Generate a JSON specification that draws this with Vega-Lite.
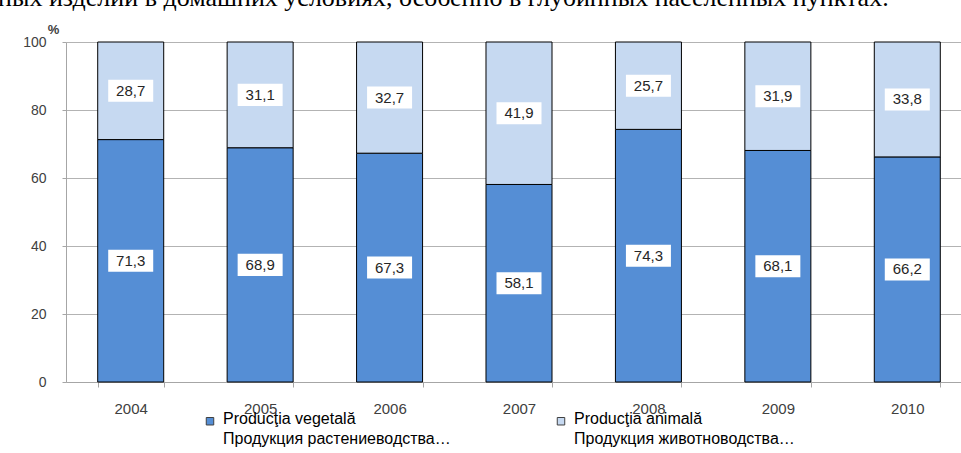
{
  "$schema": "https://vega.github.io/schema/vega-lite/v6.json",
  "width": 906,
  "height": 340,
  "autosize": {"type": "none"},
  "padding": {"left": 66, "top": 42, "right": 0, "bottom": 71},
  "background": "white",
  "config": {
    "view": {"stroke": null},
    "locale": {"number": {"decimal": ",", "thousands": " ", "grouping": [3], "currency": ["", ""]}}
  },
  "title": {
    "text": "ных изделий в домашних условиях, особенно в глубинных населенных пунктах.",
    "anchor": "start",
    "frame": "group",
    "dx": -68,
    "offset": -9,
    "baseline": "alphabetic",
    "font": "Liberation Serif",
    "fontSize": 26,
    "fontWeight": "normal",
    "color": "#000000"
  },
  "data": {
    "values": [
      {"year": "2004", "type": "Producţia vegetală", "value": 71.3},
      {"year": "2004", "type": "Producţia animală", "value": 28.7},
      {"year": "2005", "type": "Producţia vegetală", "value": 68.9},
      {"year": "2005", "type": "Producţia animală", "value": 31.1},
      {"year": "2006", "type": "Producţia vegetală", "value": 67.3},
      {"year": "2006", "type": "Producţia animală", "value": 32.7},
      {"year": "2007", "type": "Producţia vegetală", "value": 58.1},
      {"year": "2007", "type": "Producţia animală", "value": 41.9},
      {"year": "2008", "type": "Producţia vegetală", "value": 74.3},
      {"year": "2008", "type": "Producţia animală", "value": 25.7},
      {"year": "2009", "type": "Producţia vegetală", "value": 68.1},
      {"year": "2009", "type": "Producţia animală", "value": 31.9},
      {"year": "2010", "type": "Producţia vegetală", "value": 66.2},
      {"year": "2010", "type": "Producţia animală", "value": 33.8}
    ]
  },
  "transform": [
    {"stack": "value", "groupby": ["year"], "sort": [{"field": "type", "order": "descending"}], "as": ["v0", "v1"]},
    {"calculate": "(datum.v0 + datum.v1) / 2", "as": "mid"}
  ],
  "encoding": {
    "x": {
      "field": "year",
      "type": "ordinal",
      "scale": {"paddingInner": 0.49, "paddingOuter": 0.245},
      "axis": {
        "title": null,
        "labelAngle": 0,
        "labelFont": "Liberation Sans",
        "labelFontSize": 15,
        "labelColor": "#404040",
        "labelPadding": 14,
        "tickBand": "extent",
        "tickSize": 5,
        "tickColor": "#a6a6a6",
        "domainColor": "#a6a6a6",
        "grid": false
      }
    }
  },
  "layer": [
    {
      "mark": {"type": "bar", "stroke": "#000000", "strokeWidth": 1},
      "encoding": {
        "y": {
          "field": "v0",
          "type": "quantitative",
          "scale": {"domain": [0, 100], "nice": false},
          "axis": {
            "title": "%",
            "titleAngle": 0,
            "titleX": -13,
            "titleY": -13,
            "titleAlign": "center",
            "titleBaseline": "middle",
            "titleFont": "Liberation Sans",
            "titleFontSize": 13,
            "titleFontWeight": "bold",
            "titleColor": "#404040",
            "values": [0, 20, 40, 60, 80, 100],
            "labelFont": "Liberation Sans",
            "labelFontSize": 14,
            "labelColor": "#404040",
            "labelPadding": 16,
            "tickSize": 4,
            "tickColor": "#a6a6a6",
            "domainColor": "#a6a6a6",
            "gridColor": "#b3b3b3"
          }
        },
        "y2": {"field": "v1"},
        "color": {
          "field": "type",
          "type": "nominal",
          "scale": {"domain": ["Producţia vegetală", "Producţia animală"], "range": ["#558ED5", "#C6D9F1"]},
          "legend": {
            "title": null,
            "orient": "none",
            "legendX": 136,
            "legendY": 371,
            "direction": "horizontal",
            "padding": 0,
            "symbolType": "square",
            "symbolSize": 56,
            "symbolStrokeColor": "#404040",
            "symbolStrokeWidth": 1,
            "labelFont": "Liberation Sans",
            "labelFontSize": 16,
            "labelColor": "#000000",
            "labelLimit": 400,
            "labelOffset": 5,
            "columnPadding": 102,
            "labelBaseline": "alphabetic",
            "labelExpr": "datum.label == 'Producţia vegetală' ? ['Producţia vegetală', 'Продукция растениеводства…'] : ['Producţia animală', 'Продукция животноводства…']",
            "encode": {"labels": {"update": {"lineHeight": {"value": 19.5}, "dy": {"value": 3}}}}
          }
        }
      }
    },
    {
      "mark": {"type": "point", "shape": "M-1,-0.49L1,-0.49L1,0.49L-1,0.49Z", "size": 2025, "filled": true, "color": "#ffffff", "opacity": 1, "strokeWidth": 0},
      "encoding": {"y": {"field": "mid", "type": "quantitative"}}
    },
    {
      "mark": {"type": "text", "font": "Liberation Sans", "fontSize": 15, "color": "#262626"},
      "encoding": {
        "y": {"field": "mid", "type": "quantitative"},
        "text": {"field": "value", "type": "quantitative", "format": ".1f"}
      }
    }
  ]
}
